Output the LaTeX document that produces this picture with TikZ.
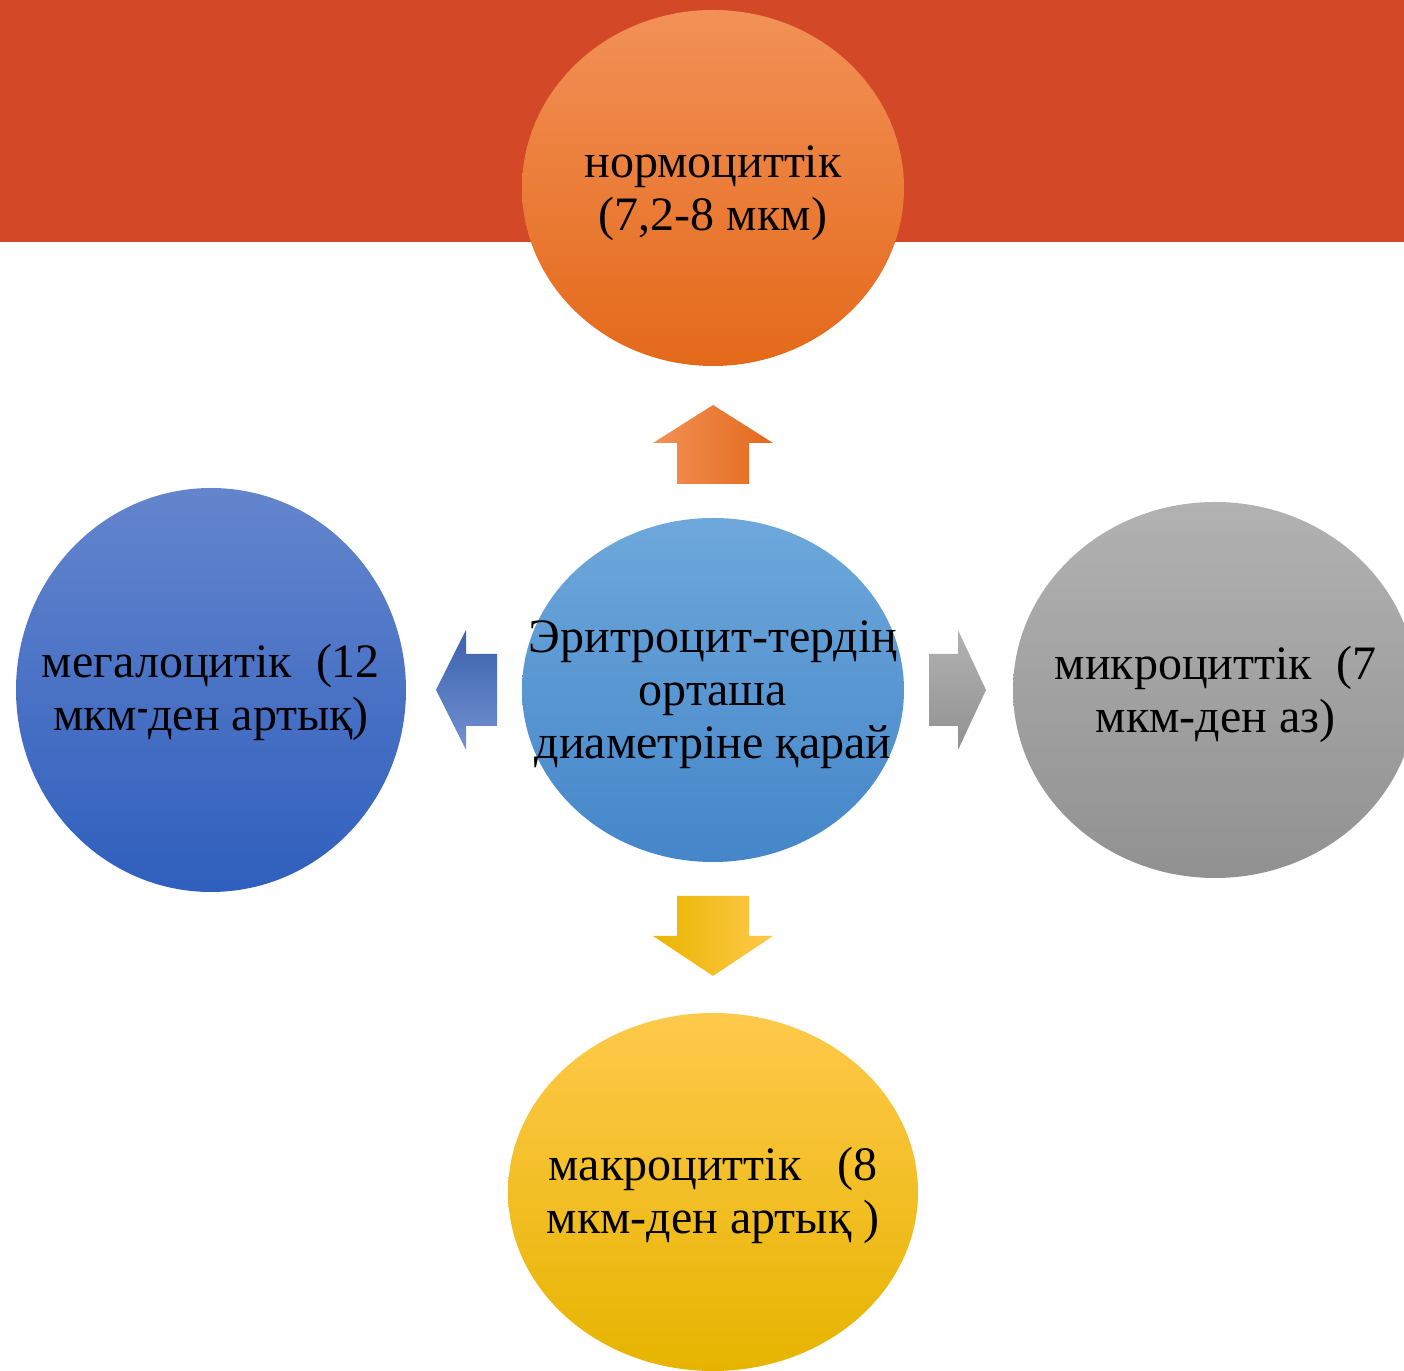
\documentclass[tikz,border=0pt]{standalone}
\usepackage{fontspec}
\setmainfont{Liberation Serif}
\definecolor{bandred}{HTML}{D34826}
\definecolor{orA}{HTML}{F29157}
\definecolor{orB}{HTML}{F57A22}
\definecolor{orC}{HTML}{E4691A}
\definecolor{blA}{HTML}{6EA8DB}
\definecolor{blB}{HTML}{559CDA}
\definecolor{blC}{HTML}{4486C9}
\definecolor{dbA}{HTML}{6485CD}
\definecolor{dbB}{HTML}{4472CA}
\definecolor{dbC}{HTML}{2F5FBD}
\definecolor{grA}{HTML}{B2B2B2}
\definecolor{grB}{HTML}{A5A5A5}
\definecolor{grC}{HTML}{919191}
\definecolor{yeA}{HTML}{FFC94B}
\definecolor{yeB}{HTML}{FFC200}
\definecolor{yeC}{HTML}{E6B400}
\begin{document}
\begin{tikzpicture}[x=0.5pt,y=0.5pt,
  lbl/.style={align=center, inner sep=0pt, text=black,
    font=\fontsize{24}{26.5}\selectfont}]
\useasboundingbox (0,0) rectangle (1404,1371);
\clip (0,0) rectangle (1404,1371);
% top band
\fill[bandred] (0,1128.5) rectangle (1404,1371);
% circles
\shade[top color=orA, middle color=orB, bottom color=orC] (713,1183) ellipse [x radius=191, y radius=178];
\shade[top color=blA, middle color=blB, bottom color=blC] (713,681) ellipse [x radius=191, y radius=172];
\shade[top color=dbA, middle color=dbB, bottom color=dbC] (211,681) ellipse [x radius=195, y radius=202];
\shade[top color=grA, middle color=grB, bottom color=grC] (1215,681) ellipse [x radius=202, y radius=188];
\shade[top color=yeA, middle color=yeB, bottom color=yeC] (713,179) ellipse [x radius=205, y radius=179];
% block arrows
\shade[left color=orA, middle color=orB, right color=orC]
  (677,887) -- (677,928) -- (653,928) -- (713,966) -- (773,928) -- (749,928) -- (749,887) -- cycle;
\shade[top color=dbB!85!black, bottom color=dbA!90!white]
  (497,645) -- (466,645) -- (466,621) -- (436,681) -- (466,741) -- (466,717) -- (497,717) -- cycle;
\shade[top color=grA, bottom color=grC]
  (929,645) -- (958,645) -- (958,621) -- (986,681) -- (958,741) -- (958,717) -- (929,717) -- cycle;
\shade[left color=yeC!90!yeB, middle color=yeB, right color=yeA]
  (677,475) -- (677,435) -- (653,435) -- (713,395) -- (773,435) -- (749,435) -- (749,475) -- cycle;
% labels
\node[lbl] (normo) at (713,1178) {\strut нормоциттік\\\strut (7,2-8 мкм)};
\node[lbl] (centre) at (713,676.5) {\strut Эритроцит-тердің\\\strut орташа\\\strut диаметріне қарай};
\node[lbl] (mega) at (211,677.6) {\strut мегалоцитік\ \ (12\\\strut мкм\raisebox{0.16em}{\scalebox{0.7}[1]{-}}ден артық)};
\node[lbl] (micro) at (1215.5,675.6) {\strut микроциттік\ \ (7\\\strut мкм-ден аз)};
\node[lbl] (macro) at (713,174.6) {\strut макроциттік\ \ \ (8\\\strut мкм-ден артық )};
\end{tikzpicture}
\end{document}
